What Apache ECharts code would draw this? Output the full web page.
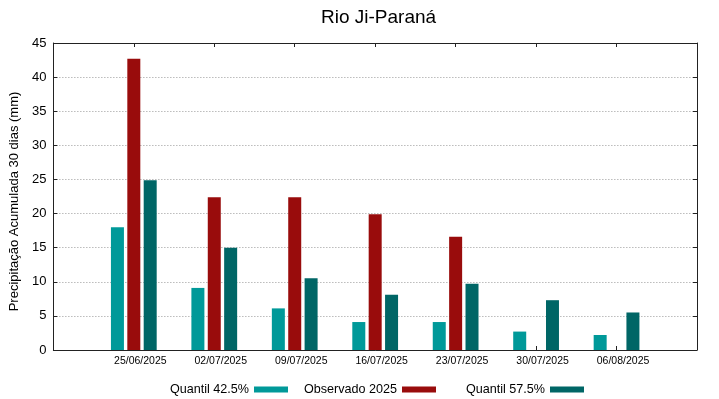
<!DOCTYPE html>
<html>
<head>
<meta charset="utf-8">
<script src="https://cdn.jsdelivr.net/npm/echarts@6/dist/echarts.min.js"></script>
<style>
  html, body { margin: 0; padding: 0; background: #fff; }
  #chart { width: 719px; height: 399px; }
</style>
</head>
<body>
<div id="chart"></div>
<script>
// datas semanais
const datas = ['25/06/2025', '02/07/2025', '09/07/2025', '16/07/2025', '23/07/2025', '30/07/2025', '06/08/2025']
const quantil425 = [18.0, 9.1, 6.1, 4.1, 4.1, 2.7, 2.2]
const observado2025 = [42.7, 22.4, 22.4, 19.9, 16.6, null, null]
const quantil575 = [24.9, 15.0, 10.5, 8.1, 9.7, 7.3, 5.5]
const yTicks = [0, 5, 10, 15, 20, 25, 30, 35, 40, 45]

const fonte = 'Liberation Sans, Arial, sans-serif'
const posicoes = datas.map((d, i) => i)

function pares(vals) {
    let out = []
    vals.forEach((v, i) => { if (v !== null) out.push([i, v]) })
    return out
}

let chart = echarts.init(document.getElementById('chart'))

const legendaBase = {
    orient: 'horizontal',
    top: 378,
    align: 'right',
    icon: 'rect',
    itemWidth: 34,
    itemHeight: 6,
    textStyle: {fontFamily: fonte, fontSize: 12.6, color: '#000'}
}

chart.setOption({
    animation: false,
    textStyle: {fontFamily: fonte},
    title: {
        text: 'Rio Ji-Paraná',
        left: 316,
        top: 3,
        textStyle: {fontFamily: fonte, fontSize: 19, fontWeight: 'normal', color: '#000'}
    },
    legend: [
        Object.assign({}, legendaBase, {right: 426, data: ['Quantil 42.5%']}),
        Object.assign({}, legendaBase, {right: 278, data: ['Observado 2025']}),
        Object.assign({}, legendaBase, {right: 130, data: ['Quantil 57.5%']})
    ],
    grid: {left: 51, right: 22, top: 43, bottom: 49},
    xAxis: [{
        type: 'value',
        min: -1,
        max: 7,
        interval: 1,
        position: 'bottom',
        axisLine: {onZero: false, lineStyle: {color: '#222', width: 1}},
        axisTick: {inside: true, length: 4, customValues: posicoes, lineStyle: {color: '#222'}},
        axisLabel: {
            customValues: posicoes,
            formatter: v => datas[v] || '',
            fontSize: 10.5,
            color: '#000',
            margin: 6,
            padding: [0, 0, 0, 13]
        },
        splitLine: {show: false}
    }, {
        type: 'value',
        min: -1,
        max: 7,
        interval: 1,
        position: 'top',
        axisLine: {onZero: false, lineStyle: {color: '#222', width: 1}},
        axisTick: {inside: true, length: 4, customValues: posicoes, lineStyle: {color: '#222'}},
        axisLabel: {show: false},
        splitLine: {show: false}
    }],
    yAxis: [{
        type: 'value',
        min: 0,
        max: 45,
        interval: 5,
        position: 'left',
        name: 'Precipitação Acumulada 30 dias (mm)',
        nameLocation: 'middle',
        nameGap: 26,
        nameTextStyle: {fontFamily: fonte, fontSize: 13, color: '#000', padding: [0, 10, 0, 0]},
        axisLine: {show: true, onZero: false, lineStyle: {color: '#222', width: 1}},
        axisTick: {show: true, inside: true, length: 4, lineStyle: {color: '#222'}},
        axisLabel: {fontSize: 13, color: '#000', margin: 7},
        splitLine: {show: true, lineStyle: {color: '#999', type: [1, 2], width: 1}}
    }, {
        type: 'value',
        min: 0,
        max: 45,
        interval: 5,
        position: 'right',
        axisLine: {show: true, onZero: false, lineStyle: {color: '#222', width: 1}},
        axisTick: {show: true, inside: true, length: 4, lineStyle: {color: '#222'}},
        axisLabel: {show: false},
        splitLine: {show: false}
    }],
    series: [{
        name: 'Quantil 42.5%',
        type: 'bar',
        barWidth: 13,
        itemStyle: {color: '#009999'},
        data: pares(quantil425)
    }, {
        name: 'Observado 2025',
        type: 'bar',
        barWidth: 13,
        itemStyle: {color: '#990c0c'},
        data: pares(observado2025)
    }, {
        name: 'Quantil 57.5%',
        type: 'bar',
        barWidth: 13,
        barGap: '26%',
        itemStyle: {color: '#006666'},
        data: pares(quantil575)
    }]
})
</script>
</body>
</html>
